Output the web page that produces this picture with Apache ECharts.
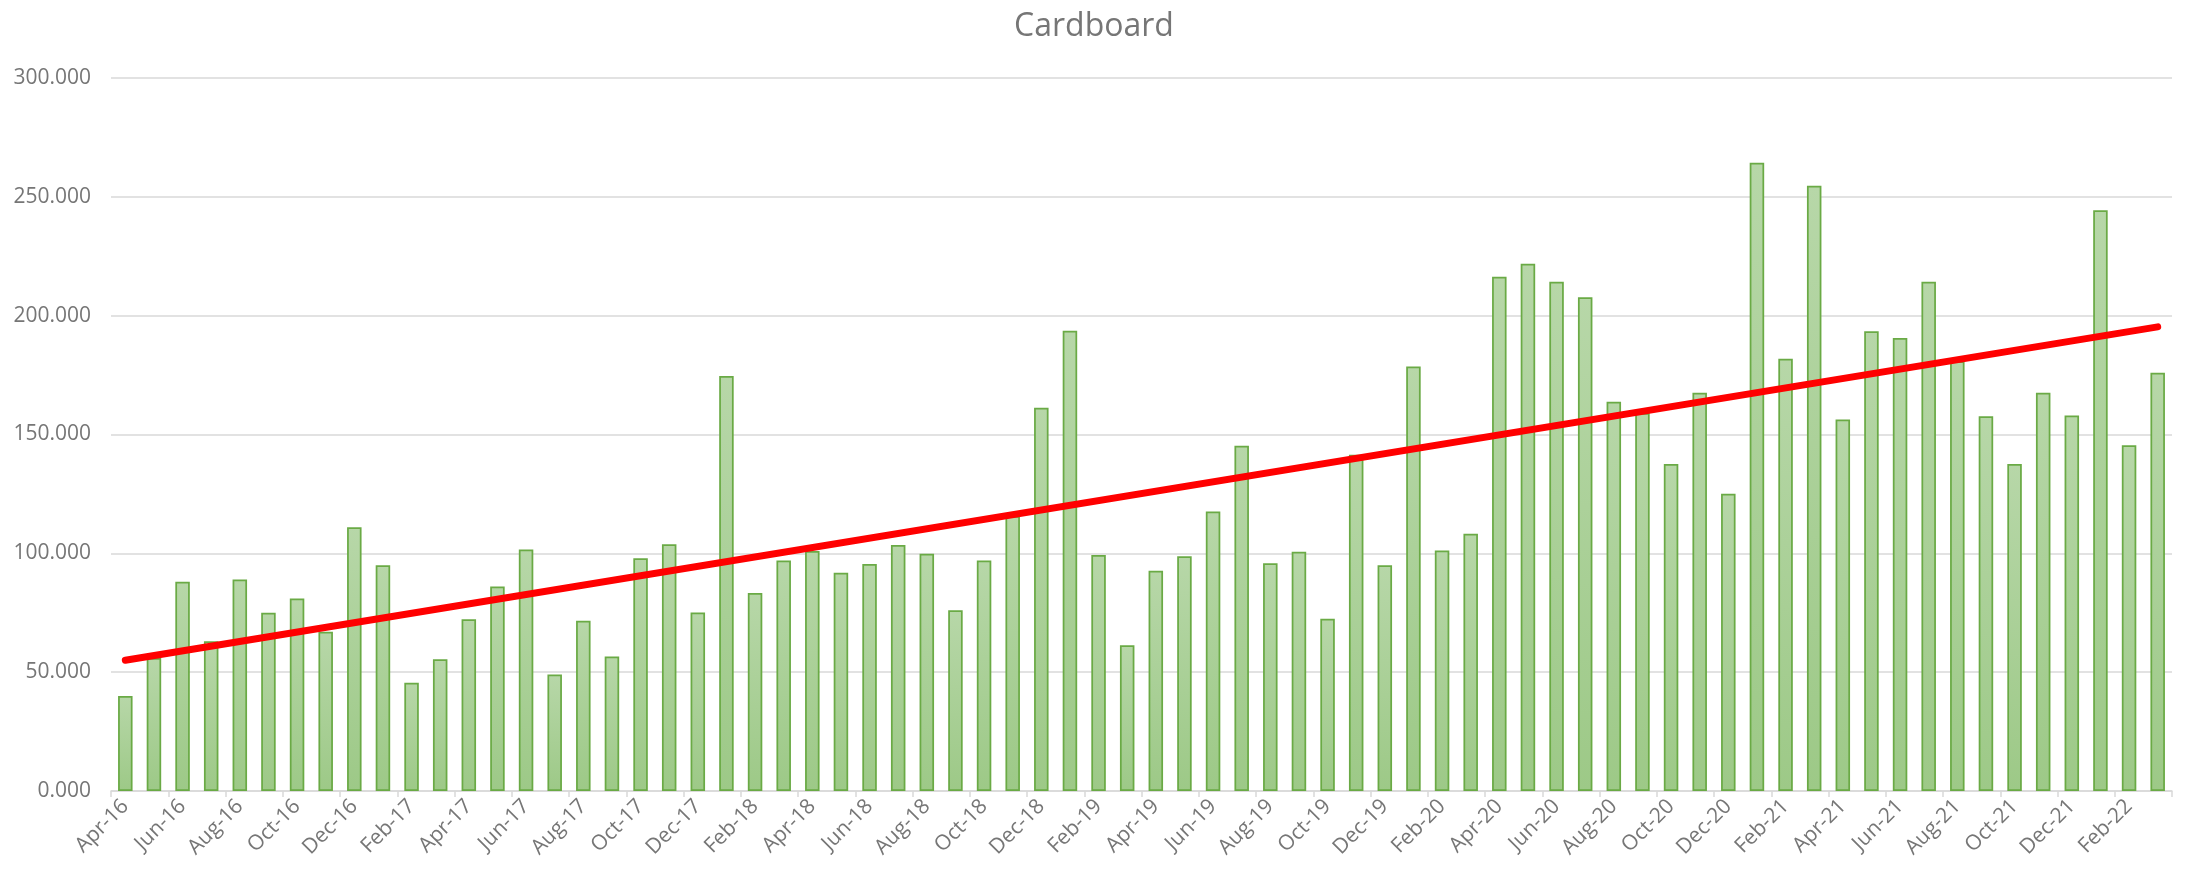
<!DOCTYPE html>
<html>
<head>
<meta charset="utf-8">
<script src="https://cdn.jsdelivr.net/npm/echarts@6/dist/echarts.min.js"></script>
<style>
  html, body { margin: 0; padding: 0; background: #ffffff; }
  #chart { width: 2188px; height: 875px; }
</style>
</head>
<body>
<div id="chart"></div>
<script>
const categories = [
  'Apr-16','May-16','Jun-16','Jul-16','Aug-16','Sep-16','Oct-16','Nov-16','Dec-16',
  'Jan-17','Feb-17','Mar-17','Apr-17','May-17','Jun-17','Jul-17','Aug-17','Sep-17','Oct-17','Nov-17','Dec-17',
  'Jan-18','Feb-18','Mar-18','Apr-18','May-18','Jun-18','Jul-18','Aug-18','Sep-18','Oct-18','Nov-18','Dec-18',
  'Jan-19','Feb-19','Mar-19','Apr-19','May-19','Jun-19','Jul-19','Aug-19','Sep-19','Oct-19','Nov-19','Dec-19',
  'Jan-20','Feb-20','Mar-20','Apr-20','May-20','Jun-20','Jul-20','Aug-20','Sep-20','Oct-20','Nov-20','Dec-20',
  'Jan-21','Feb-21','Mar-21','Apr-21','May-21','Jun-21','Jul-21','Aug-21','Sep-21','Oct-21','Nov-21','Dec-21',
  'Jan-22','Feb-22','Mar-22'
];

const cardboard = [
  40.0, 56.0, 88.0, 63.0, 89.0, 75.0, 81.0, 67.0, 111.0,
  95.0, 45.5, 55.4, 72.3, 86.0, 101.6, 49.0, 71.6, 56.6, 97.9, 103.8, 75.1,
  174.6, 83.3, 97.0, 101.0, 91.8, 95.5, 103.5, 99.8, 76.0, 97.0, 115.7, 161.3,
  193.7, 99.3, 61.3, 92.7, 98.8, 117.6, 145.3, 95.8, 100.7, 72.5, 141.5, 95.0,
  178.6, 101.2, 108.2, 216.4, 221.8, 214.3, 207.7, 163.8, 159.0, 137.6, 167.6, 125.1,
  264.3, 181.9, 254.7, 156.3, 193.4, 190.6, 214.3, 180.8, 157.7, 137.6, 167.6, 158.0,
  244.4, 145.5, 176.0
];

// Linear trend line end points
const trendStart = 55.0;
const trendEnd = 195.3;

const yTicks = { min: 0, max: 300, interval: 50 };

const chart = echarts.init(document.getElementById('chart'), null, { renderer: 'canvas' });

const font = '"Open Sans", Lato, "Noto Sans", sans-serif';

chart.setOption({
  animation: false,
  backgroundColor: '#ffffff',
  title: {
    text: 'Cardboard',
    left: 'center',
    top: 6,
    textStyle: { fontFamily: font, fontSize: 32, fontWeight: 'normal', color: '#767676' }
  },
  grid: { left: 111, right: 16, top: 78, bottom: 84, containLabel: false },
  xAxis: {
    type: 'category',
    data: categories,
    boundaryGap: true,
    axisLine: { show: true, lineStyle: { color: '#d9d9d9', width: 1.5 } },
    axisTick: { show: true, interval: 1, length: 6, lineStyle: { color: '#d9d9d9', width: 1.5 } },
    axisLabel: {
      interval: 1,
      rotate: 45,
      margin: 12,
      fontFamily: font,
      fontSize: 21,
      color: '#767676'
    },
    splitLine: { show: false }
  },
  yAxis: {
    type: 'value',
    min: yTicks.min,
    max: yTicks.max,
    interval: yTicks.interval,
    axisLine: { show: false },
    axisTick: { show: false },
    axisLabel: {
      margin: 20,
      fontFamily: font,
      fontSize: 21,
      color: '#767676',
      formatter: v => v.toFixed(3)
    },
    splitLine: { show: true, lineStyle: { color: '#d9d9d9', width: 1.5 } }
  },
  series: [
    {
      name: 'Cardboard',
      type: 'bar',
      data: cardboard,
      barWidth: 14.5,
      itemStyle: {
        color: new echarts.graphic.LinearGradient(0, 0, 0, 1, [
          { offset: 0, color: '#b7d7a8' },
          { offset: 1, color: '#9dc987' }
        ]),
        borderColor: '#6aaa45',
        borderWidth: 1.75
      },
      z: 2
    },
    {
      name: 'Trend',
      type: 'line',
      data: [[0, trendStart], [categories.length - 1, trendEnd]],
      symbol: 'none',
      lineStyle: { color: '#ff0000', width: 7, cap: 'round' },
      z: 3
    }
  ]
});
</script>
</body>
</html>
